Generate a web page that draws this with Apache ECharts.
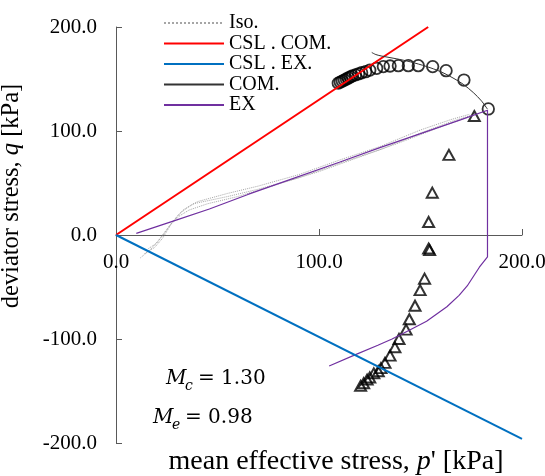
<!DOCTYPE html>
<html>
<head>
<meta charset="utf-8">
<script src="https://cdn.jsdelivr.net/npm/echarts@6/dist/echarts.min.js"></script>
<style>
html,body{margin:0;padding:0;background:#fff;}
#chart{width:545px;height:476px;}
</style>
</head>
<body>
<div id="chart"></div>
<script>
// ---- data (p' , q in kPa) ----
const xTicks = [0, 100, 200];
const yTicks = [-200, -100, 0, 100, 200];

const cslComP = [0, 153.8];
const cslComQ = [0, 200];

const cslExP = [0, 200];
const cslExQ = [0, -196];

const isoAP = [12, 17, 21, 26, 31, 35, 40, 55, 70, 90, 110, 130, 150, 165, 174];
const isoAQ = [-22, -14, -5, 8, 20, 26, 32, 40, 47, 58, 72, 85, 101, 111, 116];
const isoBP = [16, 20, 24, 28, 33, 38, 55, 70, 90, 110, 130, 150, 165, 175];
const isoBQ = [-13, -8, 2, 13, 24, 30, 37, 44, 55, 69, 82, 98, 109, 115];
const isoCP = [14, 19, 23, 27, 31, 36, 45, 60, 80, 100, 120, 140, 160, 173];
const isoCQ = [-18, -12, -3, 10, 18, 24, 30, 37, 49, 61, 75, 89, 104, 113];

const exP = [10, 20, 30, 46, 65, 86, 110, 130, 150, 170, 183, 183, 179, 173, 169, 163, 153, 144, 136, 129, 118, 105];
const exQ = [1.5, 8, 14.5, 25, 39, 53.5, 70, 84, 97.5, 111, 120, -21, -31, -49, -58, -69, -83, -92, -100, -106, -115, -126];

const comP = [126, 128, 131, 138, 145, 153, 160, 166, 171, 176, 180, 183];
const comQ = [175.5, 173.5, 172, 169.5, 166.5, 162, 157, 151, 145, 137, 129, 121];

const circP = [109.5, 110.5, 111.5, 112.5, 113.5, 114.5, 115.5, 116.5, 118, 119.5, 121, 123, 125, 128.4, 131.7, 135, 139.1, 144, 148.9, 156, 162.6, 171.4, 183.4];
const circQ = [146, 147, 148, 149, 150, 151, 152, 153, 154, 155, 156, 157, 158.5, 160.3, 161.9, 162.5, 162.8, 162.8, 162.8, 161.9, 158, 149, 121.2];

const triP = [176.5, 164, 155.8, 154, 154, 154.5, 152, 149.8, 147.3, 144.5, 142.9, 139.4, 137.4, 135, 132.5, 130.5, 129.2, 127, 125, 123.7, 122, 120.5];
const triQ = [114.4, 77, 40.7, 12.5, -13, -14.5, -42, -53, -68, -81, -91, -100, -108, -116, -123, -128, -131, -133, -137, -139, -142.5, -145];

const legendNames = ['Iso.', 'CSL . COM.', 'CSL . EX.', 'COM.', 'EX'];

function pairs(xs, ys) { return xs.map((x, i) => [x, ys[i]]); }

const SERIF = 'Liberation Serif, Times New Roman, serif';
const AX = '#595959';

const chart = echarts.init(document.getElementById('chart'), null, {renderer: 'canvas'});

const lineBase = {type: 'line', symbol: 'none', showSymbol: false, silent: true, animation: false};

const option = {
  animation: false,
  backgroundColor: '#fff',
  grid: {left: 116, right: 23, top: 27, bottom: 33, containLabel: false, outerBoundsMode: 'none'},
  legend: {
    data: legendNames,
    orient: 'vertical',
    left: 158, top: 8,
    itemWidth: 60, itemHeight: 14, itemGap: 0.5,
    itemStyle: {opacity: 0},
    textStyle: {fontFamily: SERIF, fontSize: 20, color: '#000', lineHeight: 20}
  },
  xAxis: {
    type: 'value', min: xTicks[0], max: xTicks[xTicks.length - 1], interval: 100,
    axisLine: {onZero: true, lineStyle: {color: AX, width: 1}},
    axisTick: {inside: true, length: 6, lineStyle: {color: AX}},
    axisLabel: {formatter: v => v.toFixed(1), fontFamily: SERIF, fontSize: 21, color: '#000', margin: -191},
    splitLine: {show: false},
    name: "{n|mean effective stress, }{i|p}{n|' [kPa]}",
    nameLocation: 'middle', nameGap: 5,
    nameTextStyle: {padding: [0, 0, 0, 34], rich: {
      n: {fontFamily: SERIF, fontSize: 28, color: '#000'},
      i: {fontFamily: SERIF, fontSize: 28, color: '#000', fontStyle: 'italic'}
    }}
  },
  yAxis: {
    type: 'value', min: yTicks[0], max: yTicks[yTicks.length - 1], interval: 100,
    axisLine: {onZero: false, lineStyle: {color: AX, width: 1}},
    axisTick: {inside: true, length: 6, lineStyle: {color: AX}},
    axisLabel: {formatter: v => v.toFixed(1), fontFamily: SERIF, fontSize: 21, color: '#000', margin: 19},
    splitLine: {show: false},
    name: "{n|deviator stress, }{i|q}{n| [kPa]}",
    nameLocation: 'middle', nameGap: 92,
    nameTextStyle: {padding: [0, 0, 0, 78], rich: {
      n: {fontFamily: SERIF, fontSize: 24.5, color: '#000'},
      i: {fontFamily: SERIF, fontSize: 24.5, color: '#000', fontStyle: 'italic'}
    }}
  },
  series: [
    Object.assign({}, lineBase, {name: 'Iso.', data: pairs(isoAP, isoAQ), lineStyle: {color: '#A6A6A6', width: 1, type: 'dotted'}, itemStyle: {color: '#A6A6A6'}}),
    Object.assign({}, lineBase, {name: 'Iso.', data: pairs(isoBP, isoBQ), lineStyle: {color: '#A6A6A6', width: 1, type: 'dotted'}, itemStyle: {color: '#A6A6A6'}}),
    Object.assign({}, lineBase, {name: 'Iso.', data: pairs(isoCP, isoCQ), lineStyle: {color: '#A6A6A6', width: 1, type: 'dotted'}, itemStyle: {color: '#A6A6A6'}}),
    Object.assign({}, lineBase, {name: 'EX', data: pairs(exP, exQ), lineStyle: {color: '#7030A0', width: 1.2}, itemStyle: {color: '#7030A0'}}),
    Object.assign({}, lineBase, {name: 'CSL . COM.', data: pairs(cslComP, cslComQ), lineStyle: {color: '#FF0000', width: 2}, itemStyle: {color: '#FF0000'}}),
    Object.assign({}, lineBase, {name: 'CSL . EX.', data: pairs(cslExP, cslExQ), lineStyle: {color: '#0070C0', width: 2}, itemStyle: {color: '#0070C0'}}),
    Object.assign({}, lineBase, {name: 'COM.', data: pairs(comP, comQ), lineStyle: {color: '#333333', width: 1}, itemStyle: {color: '#333333'}, smooth: 0.3}),
    {
      name: 'comData', type: 'scatter', data: pairs(circP, circQ), symbol: 'circle', symbolSize: 11.5,
      itemStyle: {color: 'rgba(0,0,0,0)', borderColor: '#000', borderWidth: 1.8}, silent: true
    },
    {
      name: 'exData', type: 'scatter', data: pairs(triP, triQ), symbol: 'triangle', symbolSize: [11, 10],
      itemStyle: {color: 'rgba(0,0,0,0)', borderColor: '#000', borderWidth: 2}, silent: true
    }
  ],
  graphic: [
    {type: 'text', left: 166, top: 369, style: {text: 'M', font: 'italic 20px DejaVu Serif', fill: '#000'}},
    {type: 'text', left: 185, top: 379, style: {text: 'c', font: 'italic 14px DejaVu Serif', fill: '#000'}},
    {type: 'text', left: 198, top: 369, style: {text: '= 1.30', font: '20px DejaVu Serif', fill: '#000'}},
    {type: 'text', left: 153, top: 408, style: {text: 'M', font: 'italic 20px DejaVu Serif', fill: '#000'}},
    {type: 'text', left: 172, top: 418, style: {text: 'e', font: 'italic 14px DejaVu Serif', fill: '#000'}},
    {type: 'text', left: 185, top: 408, style: {text: '= 0.98', font: '20px DejaVu Serif', fill: '#000'}}
  ]
};
chart.setOption(option);
</script>
</body>
</html>
